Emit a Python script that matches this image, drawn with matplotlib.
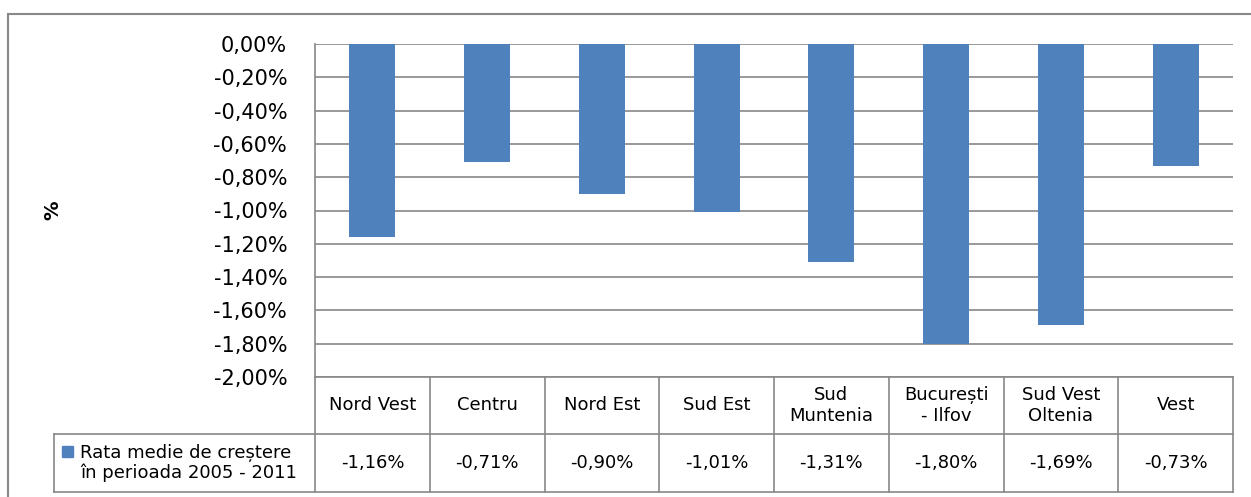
import matplotlib.pyplot as plt
from matplotlib.patches import Rectangle
from matplotlib.lines import Line2D
from matplotlib.ticker import FuncFormatter

# Regiuni si rata medie de crestere 2005 - 2011
regiuni = ["Nord Vest", "Centru", "Nord Est", "Sud Est", "Sud\nMuntenia",
           "București\n- Ilfov", "Sud Vest\nOltenia", "Vest"]
rata = [-1.16, -0.71, -0.90, -1.01, -1.31, -1.80, -1.69, -0.73]
serie = "Rata medie de creștere\nîn perioada 2005 - 2011"

albastru = "#4F81BD"
gri = "#888888"

W, H = 1251, 497
fig = plt.figure(figsize=(W / 100, H / 100), dpi=100)
plt.rcParams['font.family'] = ['DejaVu Sans']

# zona graficului (pixeli)
x0, x1, y0, y1 = 315, 1233, 44, 377
ax = fig.add_axes([x0 / W, 1 - y1 / H, (x1 - x0) / W, (y1 - y0) / H])

pos = range(len(regiuni))
ax.bar(pos, rata, width=0.4, color=albastru, zorder=3)

ax.set_xlim(-0.5, len(regiuni) - 0.5)
ax.set_ylim(-2.0, 0.0)
ax.set_yticks([-2.0 + 0.2 * i for i in range(11)])
ax.yaxis.set_major_formatter(FuncFormatter(lambda v, p: f"{v:.2f}%".replace(".", ",")))
ax.tick_params(axis="y", length=0, pad=20, labelsize=15)
ax.tick_params(axis="x", length=0, labelbottom=False)
ax.grid(axis="y", color=gri, linewidth=1.2, zorder=0)

for s in ["top", "right"]:
    ax.spines[s].set_visible(False)
for s in ["left", "bottom"]:
    ax.spines[s].set_color(gri)
    ax.spines[s].set_linewidth(1.2)

ax.set_ylabel("%", fontsize=14, fontweight="bold")
ax.yaxis.set_label_coords((62 - x0) / (x1 - x0), 0.5)

# tabelul de date de sub grafic
ah = y1 - y0
aw = x1 - x0
r1 = -(434 - y1) / ah
r2 = -(492 - y1) / ah
xh = (54 - x0) / aw
bt = ax.get_xaxis_transform()

for i in range(len(regiuni) + 1):
    ax.add_line(Line2D([i - 0.5, i - 0.5], [0, r2], transform=bt,
                       color=gri, linewidth=1.2, clip_on=False))
for yy in [r1, r2]:
    ax.add_line(Line2D([xh, 1], [yy, yy], transform=ax.transAxes,
                       color=gri, linewidth=1.2, clip_on=False))
ax.add_line(Line2D([xh, xh], [r1, r2], transform=ax.transAxes,
                   color=gri, linewidth=1.2, clip_on=False))

for i, (reg, v) in enumerate(zip(regiuni, rata)):
    ax.text(i, r1 / 2, reg, transform=bt, ha="center", va="center",
            fontsize=13, linespacing=1.15)
    ax.text(i, (r1 + r2) / 2, f"{v:.2f}%".replace(".", ","), transform=bt,
            ha="center", va="center", fontsize=13)

# cheia legendei si numele seriei
ax.add_patch(Rectangle(((62 - x0) / aw, (y1 - 457) / ah), 11 / aw, 11 / ah,
                       transform=ax.transAxes, color=albastru, clip_on=False))
ax.text((80 - x0) / aw, (r1 + r2) / 2, serie, transform=ax.transAxes,
        ha="left", va="center", fontsize=13, linespacing=1.15)

# chenarul exterior
fig.add_artist(Rectangle((8 / W, -0.02), 1.1, 1 - 14 / H + 0.02,
                         transform=fig.transFigure, fill=False,
                         edgecolor=gri, linewidth=1.5))

fig.savefig("out.png", dpi=100)
